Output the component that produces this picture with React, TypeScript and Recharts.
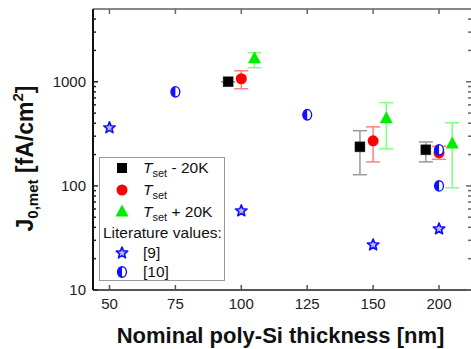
import React from "react";
import { ScatterChart, Scatter, XAxis, YAxis, ErrorBar, Label } from "recharts";

// J0,met [fA/cm2] vs nominal poly-Si thickness [nm]
const tm20X = [95, 145, 195];
const tm20Y = [1000, 237, 222];
const tm20Lo = [1000, 128, 170];
const tm20Hi = [1000, 339, 264];

const tsetX = [100, 150, 200];
const tsetY = [1069, 271, 208];
const tsetLo = [857, 170, 180];
const tsetHi = [1275, 369, 240];

const tp20X = [105, 155, 205];
const tp20Y = [1663, 441, 253];
const tp20Lo = [1366, 227, 96];
const tp20Hi = [1900, 630, 404];

const lit9X = [50, 100, 150, 200];
const lit9Y = [361, 57.5, 27.1, 38.6];

const lit10X = [75, 125, 200, 200];
const lit10Y = [801, 482, 222, 100];

// x axis is not linear: the 175 nm slot is skipped
const xTickLabels = [50, 75, 100, 125, 150, 200];
const yMajor = [10, 100, 1000];
const yMinor = [
  20, 30, 40, 50, 60, 70, 80, 90, 200, 300, 400, 500, 600, 700, 800, 900,
  2000, 3000, 4000,
];

const FONT = "'Liberation Sans', Arial, sans-serif";
const BLUE = "#1010ff";

// plot frame (chart margins + axis sizes)
const PLOT_LEFT = 93;
const PLOT_RIGHT = 472;
const PLOT_TOP = 9;
const PLOT_BOTTOM = 290;

// slot of the nearest labelled thickness, 25 nm per slot around it
const toPos = (t: number) => {
  let best = 0;
  xTickLabels.forEach((l, i) => {
    if (Math.abs(l - t) < Math.abs(xTickLabels[best] - t)) best = i;
  });
  return best + (t - xTickLabels[best]) / 25;
};

const makeRows = (xs: number[], ys: number[], lo?: number[], hi?: number[]) =>
  xs.map((t, i) => ({
    pos: toPos(t),
    thickness: t,
    j: ys[i],
    err: lo && hi ? [ys[i] - lo[i], hi[i] - ys[i]] : [0, 0],
  }));

const tm20Data = makeRows(tm20X, tm20Y, tm20Lo, tm20Hi);
const tsetData = makeRows(tsetX, tsetY, tsetLo, tsetHi);
const tp20Data = makeRows(tp20X, tp20Y, tp20Lo, tp20Hi);
const lit9Data = makeRows(lit9X, lit9Y);
const lit10Data = makeRows(lit10X, lit10Y);

const starPath = (cx: number, cy: number, ro: number, ri: number) => {
  const pts: string[] = [];
  for (let k = 0; k < 10; k++) {
    const r = k % 2 === 0 ? ro : ri;
    const a = -Math.PI / 2 + (k * Math.PI) / 5;
    pts.push(`${(cx + r * Math.cos(a)).toFixed(2)},${(cy + r * Math.sin(a)).toFixed(2)}`);
  }
  return `M${pts.join("L")}Z`;
};

// marker shapes
const SquareShape = (p: any) => (
  <rect x={p.cx - 5} y={p.cy - 5} width={10} height={10} fill="#000" stroke="#333" strokeWidth={0.5} />
);
const CircleShape = (p: any) => <circle cx={p.cx} cy={p.cy} r={5.5} fill="#ff0000" />;
const TriangleShape = (p: any) => (
  <path d={`M${p.cx},${p.cy - 7.5}L${p.cx + 6.5},${p.cy + 4.5}L${p.cx - 6.5},${p.cy + 4.5}Z`} fill="#00ee00" />
);
const StarShape = (p: any) => (
  <path d={starPath(p.cx, p.cy, 6, 2.6)} fill="#b8b8ff" stroke={BLUE} strokeWidth={1.6} strokeLinejoin="round" />
);
const HalfShape = (p: any) => (
  <g>
    <ellipse cx={p.cx} cy={p.cy} rx={4.4} ry={5.2} fill="#fff" stroke={BLUE} strokeWidth={1.4} />
    <path d={`M${p.cx},${p.cy - 5.2}A4.4,5.2 0 0 0 ${p.cx},${p.cy + 5.2}Z`} fill={BLUE} />
  </g>
);

// x ticks: label below, inward marks on bottom and top frame
const XTick = (props: any) => {
  const { payload } = props;
  const xx = payload.coordinate;
  return (
    <g>
      <line x1={xx} x2={xx} y1={PLOT_BOTTOM} y2={PLOT_BOTTOM - 5} stroke="#555" strokeWidth={1.5} />
      <line x1={xx} x2={xx} y1={PLOT_TOP} y2={PLOT_TOP + 5} stroke="#666" strokeWidth={1.5} />
      <text x={xx} y={props.y} dy="0.71em" textAnchor="middle" fontSize={15} fontFamily={FONT} fill="#222">
        {xTickLabels[payload.value]}
      </text>
    </g>
  );
};

// y ticks: majors labelled, inward marks on left and right frame
const YTick = (props: any) => {
  const { payload } = props;
  const yy = payload.coordinate;
  const major = yMajor.includes(payload.value);
  const len = major ? 5 : 3;
  return (
    <g>
      <line x1={PLOT_LEFT} x2={PLOT_LEFT + len} y1={yy} y2={yy} stroke="#222" strokeWidth={1.5} />
      <line x1={PLOT_RIGHT - len - 1} x2={PLOT_RIGHT} y1={yy} y2={yy} stroke="#666" strokeWidth={1.5} />
      {major && (
        <text x={props.x} y={yy} dy="0.355em" textAnchor="end" fontSize={15} fontFamily={FONT} fill="#222">
          {payload.value}
        </text>
      )}
    </g>
  );
};

const XTitle = (props: any) => {
  const vb = props.viewBox || { x: PLOT_LEFT, y: PLOT_BOTTOM, width: PLOT_RIGHT - PLOT_LEFT };
  return (
    <text x={vb.x + vb.width / 2 - 2} y={vb.y + 53} textAnchor="middle" fontSize={22} fontWeight="bold" fontFamily={FONT} fill="#111">
      Nominal poly-Si thickness [nm]
    </text>
  );
};

const YTitle = (props: any) => {
  const vb = props.viewBox || { y: PLOT_TOP, height: PLOT_BOTTOM - PLOT_TOP };
  const cy = vb.y + vb.height / 2 + 9;
  return (
    <text transform={`translate(33,${cy}) rotate(-90)`} textAnchor="middle" fontSize={23} fontWeight="bold" fontFamily={FONT} fill="#111">
      J
      <tspan fontSize={15} dy={5}>0,met</tspan>
      <tspan dy={-5}> [fA/cm</tspan>
      <tspan fontSize={15} dy={-10}>2</tspan>
      <tspan dy={10}>]</tspan>
    </text>
  );
};

const legendRows: { label: string; kind: string; top: number }[] = [
  { label: " - 20K", kind: "square", top: 167 },
  { label: "", kind: "circle", top: 189 },
  { label: " + 20K", kind: "triangle", top: 211 },
  { label: "Literature values:", kind: "none", top: 232 },
  { label: "[9]", kind: "star", top: 252 },
  { label: "[10]", kind: "half", top: 271 },
];

const LegendSymbol = ({ kind }: { kind: string }) => {
  const p = { cx: 8, cy: 8 };
  let el: React.ReactNode = null;
  if (kind === "square") el = <rect x={3} y={3} width={10} height={10} fill="#000" />;
  if (kind === "circle") el = CircleShape(p);
  if (kind === "triangle") el = TriangleShape(p);
  if (kind === "star") el = StarShape(p);
  if (kind === "half") el = HalfShape(p);
  return (
    <svg width={16} height={16} style={{ position: "absolute", left: 14, top: -8 }}>
      {el}
    </svg>
  );
};

const ChartLegend = () => (
  <div
    style={{
      position: "absolute",
      left: 99,
      top: 157,
      width: 126,
      height: 124,
      boxSizing: "border-box",
      border: "1px solid #999",
      background: "#fff",
      fontFamily: FONT,
      fontSize: 15.5,
      color: "#111",
    }}
  >
    {legendRows.map((r) => (
      <div key={r.kind + r.label} style={{ position: "absolute", left: 0, top: r.top - 157, width: "100%" }}>
        {r.kind !== "none" && <LegendSymbol kind={r.kind} />}
        <div
          style={{
            position: "absolute",
            left: r.kind === "none" ? 3 : 43,
            top: -10,
            whiteSpace: "nowrap",
            lineHeight: "20px",
          }}
        >
          {["square", "circle", "triangle"].includes(r.kind) ? (
            <>
              <i>T</i>
              <sub style={{ fontSize: 11, verticalAlign: "-4px" }}>set</sub>
              {r.label}
            </>
          ) : (
            r.label
          )}
        </div>
      </div>
    ))}
  </div>
);

export default function App() {
  return (
    <div style={{ position: "fixed", left: 0, top: 0, width: 471, height: 349, overflow: "hidden", background: "#fff" }}>
      <ScatterChart width={480} height={349} margin={{ top: 0, right: 8, bottom: 0, left: 0 }}>
        <XAxis
          xAxisId="x"
          dataKey="pos"
          type="number"
          domain={[-0.25, 5.5]}
          allowDataOverflow
          ticks={[0, 1, 2, 3, 4, 5]}
          interval={0}
          tickLine={false}
          tickSize={0}
          tickMargin={8}
          height={59}
          axisLine={{ stroke: "#555", strokeWidth: 2 }}
          tick={XTick}
        >
          <Label content={XTitle} />
        </XAxis>
        <XAxis
          xAxisId="top"
          orientation="top"
          type="number"
          domain={[-0.25, 5.5]}
          allowDataOverflow
          ticks={[0, 1, 2, 3, 4, 5]}
          height={PLOT_TOP}
          tick={false}
          tickLine={false}
          axisLine={{ stroke: "#888", strokeWidth: 2 }}
        />
        <YAxis
          yAxisId="y"
          dataKey="j"
          type="number"
          scale="log"
          domain={[10, 5000]}
          allowDataOverflow
          ticks={[...yMajor, ...yMinor]}
          interval={0}
          tickLine={false}
          tickSize={0}
          tickMargin={7}
          width={PLOT_LEFT}
          axisLine={{ stroke: "#111", strokeWidth: 2 }}
          tick={YTick}
        >
          <Label content={YTitle} />
        </YAxis>

        <Scatter name="Tset - 20K" data={tm20Data} xAxisId="x" yAxisId="y" dataKey="j" shape={SquareShape} isAnimationActive={false}>
          <ErrorBar dataKey="err" direction="y" width={7} stroke="#999" strokeWidth={1.5} />
        </Scatter>
        <Scatter name="Tset" data={tsetData} xAxisId="x" yAxisId="y" dataKey="j" shape={CircleShape} isAnimationActive={false}>
          <ErrorBar dataKey="err" direction="y" width={7} stroke="#ff8080" strokeWidth={1.5} />
        </Scatter>
        <Scatter name="Tset + 20K" data={tp20Data} xAxisId="x" yAxisId="y" dataKey="j" shape={TriangleShape} isAnimationActive={false}>
          <ErrorBar dataKey="err" direction="y" width={7} stroke="#80ff80" strokeWidth={1.5} />
        </Scatter>
        <Scatter name="[9]" data={lit9Data} xAxisId="x" yAxisId="y" dataKey="j" shape={StarShape} isAnimationActive={false} />
        <Scatter name="[10]" data={lit10Data} xAxisId="x" yAxisId="y" dataKey="j" shape={HalfShape} isAnimationActive={false} />
      </ScatterChart>
      <ChartLegend />
    </div>
  );
}
